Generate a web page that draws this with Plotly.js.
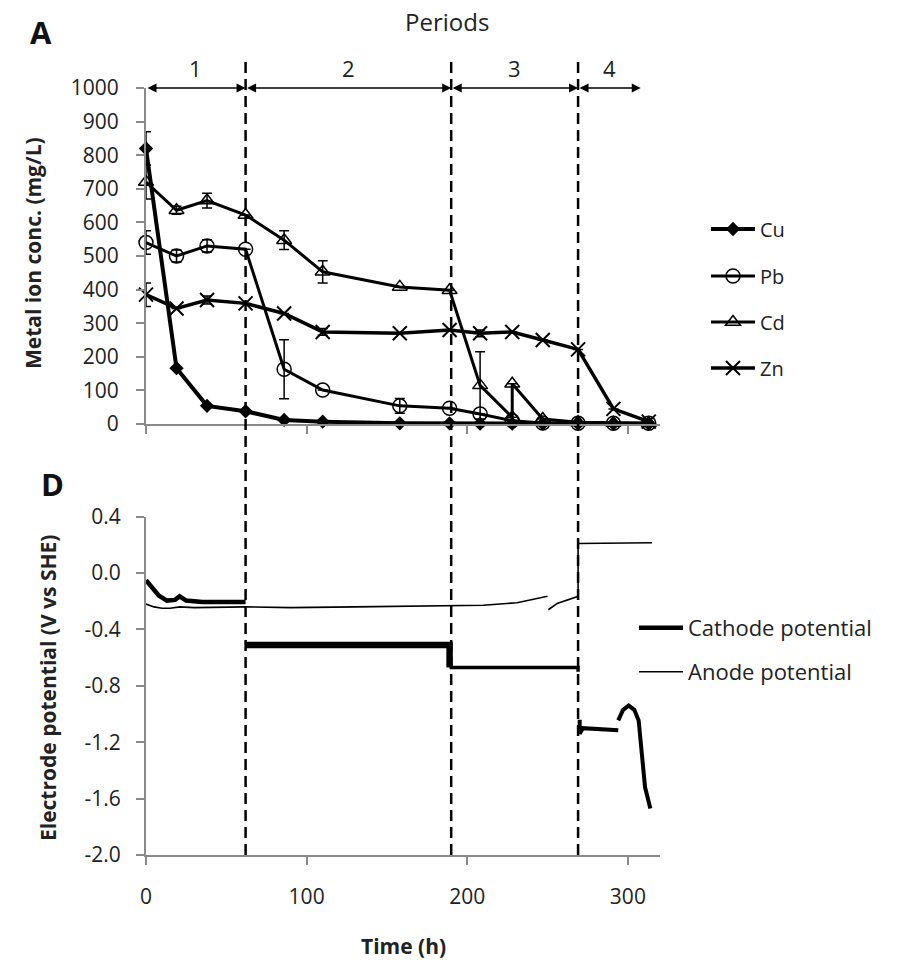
<!DOCTYPE html>
<html>
<head>
<meta charset="utf-8">
<script src="https://cdn.plot.ly/plotly-3.0.1.min.js"></script>
<style>html,body{margin:0;padding:0;background:#fff;}#chart{width:909px;height:965px;}</style>
</head>
<body>
<div id="chart"></div>
<script>
// ---- Panel A data: metal ion concentration (mg/L) ----
const topTime = [0, 19, 38, 62, 86, 110, 158, 189, 208, 228, 247, 269, 291, 313];
const cuConc = [820, 166, 54, 38, 12, 7, 2, 2, 1, 1, 1, 1, 1, 1];
const cuErr  = [50, 0, 0, 0, 0, 0, 0, 0, 0, 0, 0, 0, 0, 0];
const pbConc = [540, 500, 530, 520, 163, 101, 54, 47, 30, 10, 3, 2, 2, 2];
const pbErr  = [35, 18, 18, 0, 88, 0, 22, 0, 0, 0, 0, 0, 0, 0];
const cdTime = [0, 19, 38, 62, 86, 110, 158, 189, 208, 228, 228, 247, 269, 291, 313];
const cdConc = [720, 636, 665, 622, 547, 453, 408, 398, 115, 20, 120, 15, 5, 3, 2];
const cdErr  = [50, 12, 22, 0, 28, 33, 0, 0, 100, 0, 0, 0, 0, 0, 0];
const znConc = [385, 344, 369, 359, 329, 274, 270, 280, 270, 274, 250, 222, 45, 7];
const znErr  = [35, 0, 12, 0, 0, 10, 0, 0, 10, 0, 0, 0, 0, 0];

// ---- Panel D data: electrode potentials (V vs SHE) ----
const cathP1T = [0, 3, 8, 13, 18, 21, 25, 35, 50, 62];
const cathP1V = [-0.05, -0.09, -0.16, -0.195, -0.19, -0.165, -0.195, -0.205, -0.205, -0.205];
const cathP2T = [62, 189, 189];
const cathP2V = [-0.51, -0.51, -0.67];
const cathP3T = [189, 269, 269];
const cathP3V = [-0.67, -0.67, -0.70];
const cathP4T = [270, 270, 272, 294, null, 294, 297, 300.5, 304, 306.7, 308.7, 310.7, 314];
const cathP4V = [-1.04, -1.14, -1.10, -1.115, null, -1.045, -0.97, -0.94, -0.97, -1.045, -1.28, -1.52, -1.67];
const anodeT = [0, 5, 10, 15, 21, 30, 62, 90, 130, 160, 189, 210, 231, 250, null, 250.5, 256, 269, 269, 315];
const anodeV = [-0.22, -0.24, -0.25, -0.25, -0.24, -0.245, -0.24, -0.245, -0.24, -0.235, -0.23, -0.228, -0.21, -0.165, null, -0.26, -0.215, -0.165, 0.21, 0.215];

// ---- periods and ticks ----
const periodBounds = [0, 62, 190, 269, 308];
const periodLabels = ['1', '2', '3', '4'];
const concTicks = [0, 100, 200, 300, 400, 500, 600, 700, 800, 900, 1000];
const potTicks = [0.4, 0.0, -0.4, -0.8, -1.2, -1.6, -2.0];
const potTickLabels = ['0.4', '0.0', '-0.4', '-0.8', '-1.2', '-1.6', '-2.0'];
const timeTicks = [0, 100, 200, 300];

const FONT = 'Open Sans, Lato, sans-serif';
const TXT = '#222';
const AX = '#8a8a8a';

function errSpec(arr) {
  return {type: 'data', array: arr, visible: true, color: '#000', thickness: 1.5, width: 5};
}

const traces = [
  {x: topTime, y: cuConc, name: 'Cu', mode: 'lines+markers', xaxis: 'x', yaxis: 'y', legend: 'legend',
   line: {color: '#000', width: 4}, marker: {symbol: 'diamond', size: 11, color: '#000'},
   error_y: errSpec(cuErr), cliponaxis: false},
  {x: topTime, y: pbConc, name: 'Pb', mode: 'lines+markers', xaxis: 'x', yaxis: 'y', legend: 'legend2',
   line: {color: '#000', width: 3}, marker: {symbol: 'circle-open', size: 14, color: '#000', line: {width: 1.5}},
   error_y: errSpec(pbErr), cliponaxis: false},
  {x: cdTime, y: cdConc, name: 'Cd', mode: 'lines+markers', xaxis: 'x', yaxis: 'y', legend: 'legend3',
   line: {color: '#000', width: 3}, marker: {symbol: 'triangle-up-open', size: 13, color: '#000', line: {width: 1.5}},
   error_y: errSpec(cdErr), cliponaxis: false},
  {x: topTime, y: znConc, name: 'Zn', mode: 'lines+markers', xaxis: 'x', yaxis: 'y', legend: 'legend4',
   line: {color: '#000', width: 3.5}, marker: {symbol: 'x-thin-open', size: 14, color: '#000', line: {width: 2}},
   error_y: errSpec(znErr), cliponaxis: false},
  {x: cathP1T, y: cathP1V, name: 'Cathode potential', mode: 'lines', xaxis: 'x2', yaxis: 'y2', legend: 'legend5',
   line: {color: '#000', width: 4.5}},
  {x: cathP2T, y: cathP2V, mode: 'lines', xaxis: 'x2', yaxis: 'y2', showlegend: false,
   line: {color: '#000', width: 6.5}},
  {x: cathP3T, y: cathP3V, mode: 'lines', xaxis: 'x2', yaxis: 'y2', showlegend: false,
   line: {color: '#000', width: 3.5}},
  {x: cathP4T, y: cathP4V, mode: 'lines', xaxis: 'x2', yaxis: 'y2', showlegend: false, connectgaps: false,
   line: {color: '#000', width: 4}},
  {x: anodeT, y: anodeV, name: 'Anode potential', mode: 'lines', xaxis: 'x2', yaxis: 'y2', legend: 'legend6',
   connectgaps: false, line: {color: '#000', width: 1.6}}
];

const L = 146, R = 660, T = 88, B = 855;
const W = R - L, H = B - T;
const px = v => (v - L) / W;
const py = v => (B - v) / H;

const shapes = periodBounds.slice(1, 4).map(b => ({
  type: 'line', xref: 'x', yref: 'paper', x0: b, x1: b, y0: 0, y1: py(62),
  line: {color: '#000', width: 2.5, dash: '11px,6px'}
}));

const annotations = [];
for (let i = 0; i < periodLabels.length; i++) {
  annotations.push({
    xref: 'x', yref: 'y', x: periodBounds[i + 1], y: 1000, ax: periodBounds[i], ay: 1000,
    axref: 'x', ayref: 'y', text: '', showarrow: true, arrowside: 'end+start',
    arrowhead: 2, arrowsize: 1.2, arrowwidth: 1.5, arrowcolor: '#000', standoff: 0, startstandoff: 0
  });
  annotations.push({
    xref: 'x', yref: 'paper', x: (periodBounds[i] + periodBounds[i + 1]) / 2, y: py(68),
    text: periodLabels[i], showarrow: false, font: {family: FONT, size: 22, color: TXT},
    xanchor: 'center', yanchor: 'middle'
  });
}
annotations.push({xref: 'paper', yref: 'paper', x: px(447), y: py(22), text: 'Periods', showarrow: false,
  font: {family: FONT, size: 24, color: TXT}, xanchor: 'center', yanchor: 'middle'});
annotations.push({xref: 'paper', yref: 'paper', x: px(41), y: py(32), text: '<b>A</b>', showarrow: false,
  font: {family: FONT, size: 31, color: '#111'}, xanchor: 'center', yanchor: 'middle'});
annotations.push({xref: 'paper', yref: 'paper', x: px(52), y: py(484), text: '<b>D</b>', showarrow: false,
  font: {family: FONT, size: 31, color: '#111'}, xanchor: 'center', yanchor: 'middle'});
annotations.push({xref: 'paper', yref: 'paper', x: px(33), y: py(253), text: '<b>Metal ion conc. (mg/L)</b>',
  showarrow: false, textangle: -90, font: {family: FONT, size: 21, color: TXT}, xanchor: 'center', yanchor: 'middle'});
annotations.push({xref: 'paper', yref: 'paper', x: px(48), y: py(688), text: '<b>Electrode potential (V vs SHE)</b>',
  showarrow: false, textangle: -90, font: {family: FONT, size: 21, color: TXT}, xanchor: 'center', yanchor: 'middle'});
annotations.push({xref: 'paper', yref: 'paper', x: px(403), y: py(946), text: '<b>Time (h)</b>',
  showarrow: false, font: {family: FONT, size: 21, color: TXT}, xanchor: 'center', yanchor: 'middle'});

function legendAt(xp, yp, fs) {
  return {x: px(xp), y: py(yp), xanchor: 'left', yanchor: 'middle', bgcolor: 'rgba(0,0,0,0)',
    font: {family: FONT, size: fs, color: TXT}, itemwidth: 44, borderwidth: 0};
}

const axCommon = {showline: true, linecolor: AX, linewidth: 2, ticks: 'outside', tickcolor: AX,
  tickwidth: 2, ticklen: 8, showgrid: false, zeroline: false, tickfont: {family: FONT, size: 21, color: TXT}};

const layout = {
  width: 909, height: 965, margin: {l: L, r: 909 - R, t: T, b: 965 - B},
  paper_bgcolor: '#fff', plot_bgcolor: '#fff', showlegend: true,
  xaxis: Object.assign({}, axCommon, {range: [0, 320], tickvals: timeTicks, showticklabels: false, anchor: 'y', domain: [0, 1]}),
  yaxis: Object.assign({}, axCommon, {range: [0, 1000], tickvals: concTicks, domain: [py(424), 1], anchor: 'x', ticklabelstandoff: 13}),
  xaxis2: Object.assign({}, axCommon, {range: [0, 320], tickvals: timeTicks, anchor: 'y2', domain: [0, 1], ticklabelstandoff: 14}),
  yaxis2: Object.assign({}, axCommon, {range: [-2.0, 0.4], tickvals: potTicks, ticktext: potTickLabels, domain: [0, py(516.7)], anchor: 'x2', ticklabelstandoff: 11}),
  legend: legendAt(706, 229, 20),
  legend2: legendAt(706, 276, 20),
  legend3: legendAt(706, 322, 20),
  legend4: legendAt(706, 368, 20),
  legend5: legendAt(634, 628, 22),
  legend6: legendAt(634, 672, 22),
  shapes: shapes,
  annotations: annotations
};

Plotly.newPlot('chart', traces, layout, {displayModeBar: false, staticPlot: true});
</script>
</body>
</html>
